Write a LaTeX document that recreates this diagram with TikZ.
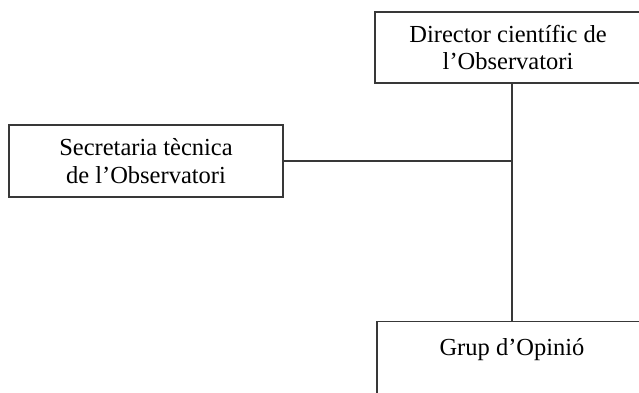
\documentclass[tikz,border=0pt]{standalone}
\usepackage{fontspec}
\setmainfont{Liberation Serif}
\usetikzlibrary{calc}
\begin{document}
\begin{tikzpicture}[x=1pt,y=-1pt,
  boxstyle/.style={draw=black!78, line width=1.3pt, inner sep=0pt, align=center,
    font=\fontsize{24.5}{27.5}\selectfont},
  linkstyle/.style={draw=black!78, line width=1.3pt},
  txtstyle/.style={font=\fontsize{24.5}{27.5}\selectfont, inner sep=0pt}]
\useasboundingbox (0,0) rectangle (639,392);
\node[boxstyle, minimum width=266pt, minimum height=71pt] (dir) at (508,47.5)
  {Director científic de\\l’Observatori};
\node[boxstyle, minimum width=274pt, minimum height=72pt] (sec) at (146,161)
  {Secretaria tècnica\\de l’Observatori};
\node[boxstyle, minimum width=270pt, minimum height=100pt, anchor=north] (grup) at (512,321) {};
\node[txtstyle, anchor=base] (gruptxt) at ($(grup.north)+(0,34)$) {Grup d’Opinió};
\draw[linkstyle] (dir.south -| grup.north) -- (grup.north);
\draw[linkstyle] (sec.east) -- (sec.east -| grup.north);
\end{tikzpicture}
\end{document}
